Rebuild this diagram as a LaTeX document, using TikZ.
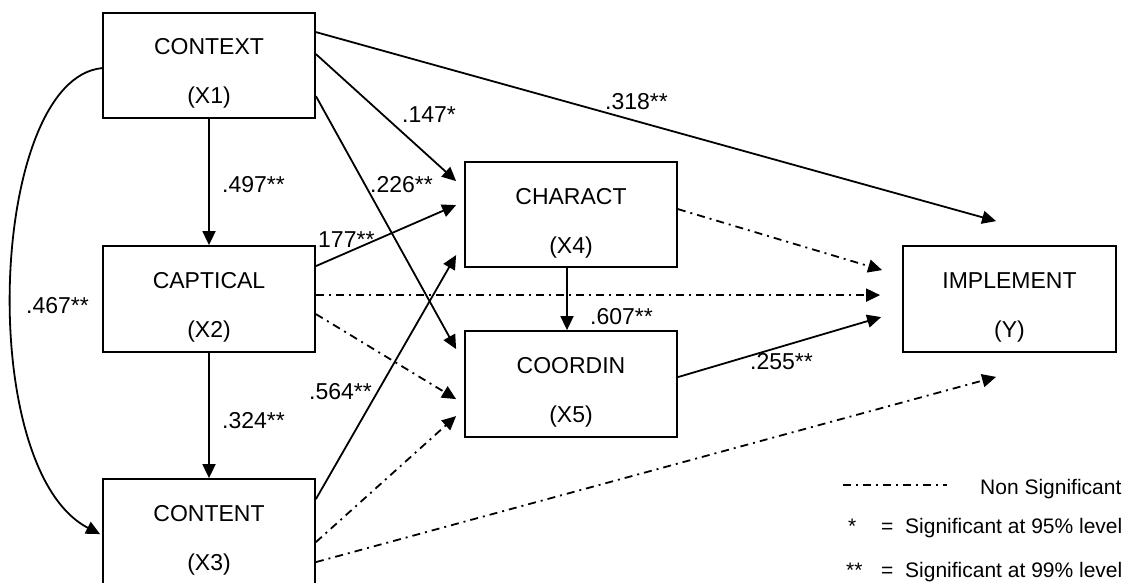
\documentclass[tikz,border=0pt]{standalone}
\usepackage{fontspec}
\setmainfont{Liberation Sans}
\usetikzlibrary{arrows.meta}
\begin{document}
\begin{tikzpicture}[x=1pt,y=-1pt,
  box/.style={draw, line width=1.8pt, minimum width=212pt, minimum height=105pt, inner sep=0pt},
  txt/.style={font=\fontsize{23}{27}\selectfont, inner sep=0pt, anchor=base},
  lab/.style={font=\fontsize{23}{27}\selectfont, inner sep=0pt, anchor=base west},
  leg/.style={font=\fontsize{21}{25}\selectfont, inner sep=0pt, anchor=base west},
  arr/.style={line width=1.8pt, -{Triangle[length=14pt,width=13pt]}},
  dd/.style={arr, dash pattern=on 8pt off 5pt on 2pt off 5pt},
  ddplain/.style={line width=1.8pt, dash pattern=on 8pt off 5pt on 2pt off 5pt},
]
\useasboundingbox (0,0) rectangle (1134,583);
\clip (0,0) rectangle (1134,583);

% boxes
\node[box] (ctx) at (209,65.5) {};
\node[box, minimum height=106pt] (cap) at (209,299) {};
\node[box, minimum height=106pt] (con) at (209,532) {};
\node[box] (cha) at (571,214.5) {};
\node[box, minimum height=106pt] (coo) at (571,384) {};
\node[box, minimum width=213pt, minimum height=106pt] (imp) at (1009.5,299) {};

% box texts
\node[txt] (ctxa) at (209,55) {CONTEXT};
\node[txt] (ctxb) at (209,104) {(X1)};
\node[txt] (capa) at (209,288) {CAPTICAL};
\node[txt] (capb) at (209,337) {(X2)};
\node[txt] (cona) at (209,521) {CONTENT};
\node[txt] (conb) at (209,570) {(X3)};
\node[txt] (chaa) at (571,204) {CHARACT};
\node[txt] (chab) at (571,253) {(X4)};
\node[txt] (cooa) at (571,373) {COORDIN};
\node[txt] (coob) at (571,422) {(X5)};
\node[txt] (impa) at (1009.5,288) {IMPLEMENT};
\node[txt] (impb) at (1009.5,337) {(Y)};

% solid paths
\draw[arr] (ctx.south) -- (cap.north);
\draw[arr] (cap.south) -- (con.north);
\draw[arr] ([xshift=-4pt]cha.south) -- ([xshift=-4pt]coo.north);
\draw[arr] ([yshift=-20pt]ctx.north east) -- ([xshift=94pt,yshift=24pt]imp.north west);
\draw[arr] ([yshift=-42pt]ctx.north east) -- ([xshift=-8pt,yshift=-20pt]cha.north west);
\draw[arr] ([yshift=-84pt]ctx.north east) -- ([xshift=-8pt,yshift=-19pt]coo.north west);
\draw[arr] ([yshift=-21pt]cap.north east) -- ([xshift=-8pt,yshift=-44pt]cha.north west);
\draw[arr] ([yshift=-21pt]con.north east) -- ([xshift=-8pt,yshift=-94pt]cha.north west);
\draw[arr] ([yshift=-47pt]coo.north east) -- ([xshift=-21pt,yshift=-72pt]imp.north west);
\draw[arr] ([yshift=-56pt]ctx.north west) .. controls +(-113,11) and +(-126,-65) .. ([xshift=-2pt,yshift=-56pt]con.north west);

% dash-dot paths
\draw[dd] ([yshift=-50pt]cap.north east) -- ([xshift=-22pt,yshift=-50pt]imp.north west);
\draw[dd] ([yshift=-69pt]cap.north east) -- ([xshift=-8pt,yshift=-69pt]coo.north west);
\draw[dd] ([yshift=-64pt]con.north east) -- ([xshift=-8pt,yshift=-86pt]coo.north west);
\draw[dd] ([yshift=-84pt]con.north east) -- ([xshift=94pt,yshift=-24pt]imp.south west);
\draw[dd] ([yshift=-48pt]cha.north east) -- ([xshift=-20pt,yshift=-25pt]imp.north west);

% coefficient labels
\node[lab] (l1) at (222,192) {.497**};
\node[lab, anchor=base east] (l2) at (668,110) {.318**};
\node[lab] (l3) at (402,122) {.147*};
\node[lab] (l4) at (370,192) {.226**};
\node[lab] (l5) at (318,247) {177**};
\node[lab] (l6) at (309,399) {.564**};
\node[lab] (l7) at (590,324) {.607**};
\node[lab] (l8) at (26,313) {.467**};
\node[lab] (l9) at (222,428) {.324**};
\node[lab] (l10) at (750,369) {.255**};

% legend
\coordinate (lga) at (843,485);
\coordinate (lgb) at (947,485);
\draw[ddplain] (lga) -- (lgb);
\node[leg] (lg1) at (980,494) {Non Significant};
\node[leg] (lg2s) at (848,533) {*};
\node[leg] (lg2e) at (881,533) {=};
\node[leg] (lg2) at (905,533) {Significant at 95\% level};
\node[leg] (lg3s) at (846,577) {**};
\node[leg] (lg3e) at (881,577) {=};
\node[leg] (lg3) at (905,577) {Significant at 99\% level};
\end{tikzpicture}
\end{document}
